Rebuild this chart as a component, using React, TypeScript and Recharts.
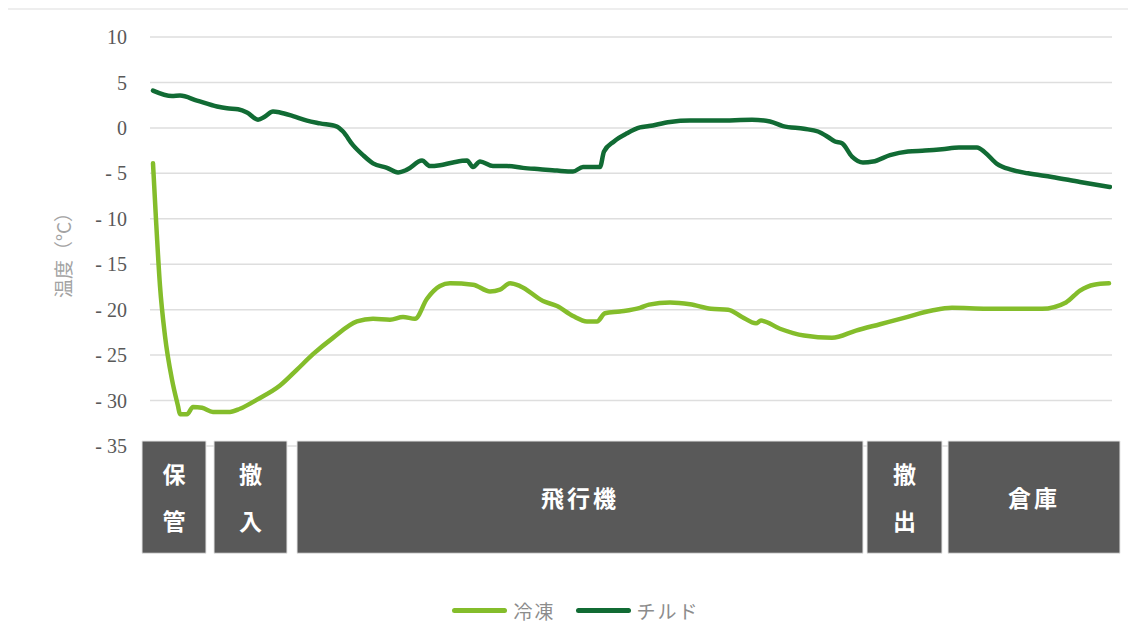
import { LineChart, Line, XAxis, YAxis, CartesianGrid, ReferenceArea, Legend } from 'recharts'

// elapsed time (arbitrary units) and temperature in °C
const frozenTime = [
  0, 3, 7, 12, 19, 25, 27, 34, 40, 49, 60, 77, 87, 104, 127, 144, 160, 180, 204, 220,
  237, 250, 262, 274, 287, 297, 320, 337, 347, 357, 367, 390, 404, 420, 434, 444, 452, 467, 487, 496,
  517, 537, 558, 575, 589, 603, 608, 627, 651, 679, 703, 727, 751, 779, 799, 834, 889, 913, 927, 941, 956,
]
const frozenTemp = [
  -3.9, -10.1, -17.4, -22.9, -27.7, -30.6, -31.5, -31.5, -30.7, -30.8, -31.25, -31.25, -30.9, -29.9, -28.35, -26.6, -24.9, -23.1, -21.3, -21.0,
  -21.1, -20.8, -21.0, -18.8, -17.4, -17.1, -17.25, -18.0, -17.8, -17.1, -17.4, -19.05, -19.6, -20.7, -21.3, -21.3, -20.4, -20.2, -19.8, -19.45,
  -19.2, -19.4, -19.9, -20.0, -20.8, -21.5, -21.2, -22.1, -22.85, -23.1, -22.3, -21.6, -20.9, -20.1, -19.8, -19.9, -19.9, -19.2, -17.9, -17.25, -17.1,
]

const chilledTime = [
  0, 19, 27, 44, 64, 74, 85, 94, 105, 112, 120, 127, 140, 154, 167, 184, 190, 200, 210, 220,
  234, 245, 254, 269, 277, 287, 300, 314, 320, 327, 340, 354, 370, 387, 404, 420, 430, 447, 451, 461,
  474, 487, 496, 517, 537, 565, 599, 617, 630, 651, 665, 675, 682, 689, 699, 710, 720, 737, 755, 772,
  789, 806, 824, 832, 844, 858, 875, 899, 927, 957,
]
const chilledTemp = [
  4.1, 3.5, 3.55, 3.0, 2.35, 2.15, 2.05, 1.7, 0.9, 1.25, 1.8, 1.7, 1.3, 0.8, 0.5, 0.15, -0.4, -1.9, -3.0, -3.9,
  -4.4, -4.9, -4.6, -3.6, -4.2, -4.1, -3.8, -3.6, -4.3, -3.7, -4.2, -4.2, -4.4, -4.55, -4.7, -4.8, -4.3, -4.3, -2.6, -1.5,
  -0.6, 0.05, 0.2, 0.65, 0.8, 0.8, 0.9, 0.7, 0.2, -0.1, -0.4, -1.0, -1.5, -1.7, -3.15, -3.8, -3.7, -3.0, -2.6, -2.5,
  -2.35, -2.15, -2.15, -2.7, -3.95, -4.6, -5.0, -5.4, -5.95, -6.5,
]

const yTicks = [10, 5, 0, -5, -10, -15, -20, -25, -30, -35]

// phases shown under the plot: name, start, end (same time units)
const phaseNames = ['保管', '撤入', '飛行機', '撤出', '倉庫']
const phaseStart = [-11, 61, 144, 714, 795]
const phaseEnd = [53, 134, 710, 789, 967]
const phaseVertical = [true, true, false, true, false]

const frozen = frozenTime.map((t, i) => ({ t, v: frozenTemp[i] }))
const chilled = chilledTime.map((t, i) => ({ t, v: chilledTemp[i] }))

const FROZEN = '#84bd2b'
const CHILLED = '#116b34'

function phaseLabel(name: string, vertical: boolean) {
  return (props: any) => {
    const vb = props.viewBox || {}
    const cx = vb.x + vb.width / 2
    const cy = vb.y + vb.height / 2
    const style = { fill: '#fff', fontSize: 23, fontWeight: 700, fontFamily: '"Noto Sans CJK JP", sans-serif' }
    if (vertical) {
      return (
        <g>
          <text x={cx} y={cy - 24} textAnchor="middle" dominantBaseline="central" style={style}>{name[0]}</text>
          <text x={cx} y={cy + 23} textAnchor="middle" dominantBaseline="central" style={style}>{name[1]}</text>
        </g>
      )
    }
    return (
      <text x={cx} y={cy} textAnchor="middle" dominantBaseline="central" style={{ ...style, letterSpacing: 3 }}>{name}</text>
    )
  }
}

function YLabel(props: any) {
  const vb = props.viewBox || {}
  const x = 54
  const y = vb.y + vb.height / 2 + 9
  return (
    <text x={x} y={y} transform={`rotate(-90 ${x} ${y})`} textAnchor="middle" dominantBaseline="central"
      style={{ fill: '#a3a3a3', fontSize: 19, fontFamily: '"Noto Sans CJK JP", sans-serif' }}>
      温度（°C）
    </text>
  )
}

function LegendContent() {
  const items = [
    { name: '冷凍', color: FROZEN },
    { name: 'チルド', color: CHILLED },
  ]
  return (
    <div style={{ display: 'flex', justifyContent: 'center', paddingLeft: 16, gap: 20, height: 20, alignItems: 'center' }}>
      {items.map(it => (
        <div key={it.name} style={{ display: 'flex', alignItems: 'center', gap: 6 }}>
          <div style={{ width: 55, height: 5, borderRadius: 3, background: it.color }} />
          <span style={{ color: '#8c8c8c', fontSize: 19, letterSpacing: 2, fontFamily: '"Noto Sans CJK JP", sans-serif' }}>{it.name}</span>
        </div>
      ))}
    </div>
  )
}

export default function App() {
  return (
    <div style={{ position: 'relative', left: -2, width: 1128, height: 630, borderTop: '2px solid #eeeeee', borderLeft: '2px solid #eeeeee', background: '#fff' }}>
      <LineChart width={1120} height={625} margin={{ top: 27, right: 16, left: 0, bottom: 189 }}>
        <CartesianGrid vertical={false} stroke="#dedede" strokeWidth={1.5} />
        <XAxis type="number" dataKey="t" domain={[-3, 959]} hide allowDataOverflow />
        <YAxis
          type="number"
          domain={[-35, 10]}
          ticks={yTicks}
          width={142}
          axisLine={false}
          tickLine={false}
          tickSize={0}
          tickMargin={23}
          interval={0}
          tickFormatter={(v: number) => (v < 0 ? `- ${Math.abs(v)}` : `${v}`)}
          tick={{ fill: '#595959', fontSize: 20, fontFamily: '"Liberation Serif", serif' }}
          label={<YLabel />}
        />
        {phaseNames.map((name, i) => (
          <ReferenceArea
            key={name}
            x1={phaseStart[i]}
            x2={phaseEnd[i]}
            y1={-34.45}
            y2={-46.8}
            ifOverflow="visible"
            fill="#595959"
            fillOpacity={1}
            stroke="#e6e6e6"
            strokeWidth={1}
            label={phaseLabel(name, phaseVertical[i])}
          />
        ))}
        <Line data={frozen} dataKey="v" name="冷凍" type="monotone" stroke={FROZEN} strokeWidth={4.5}
          dot={false} activeDot={false} strokeLinecap="round" strokeLinejoin="round" isAnimationActive={false} />
        <Line data={chilled} dataKey="v" name="チルド" type="monotone" stroke={CHILLED} strokeWidth={4.5}
          dot={false} activeDot={false} strokeLinecap="round" strokeLinejoin="round" isAnimationActive={false} />
        <Legend layout="horizontal" verticalAlign="middle" align="center" content={<LegendContent />}
          wrapperStyle={{ top: 590, left: 0, width: 1120 }} />
      </LineChart>
    </div>
  )
}
